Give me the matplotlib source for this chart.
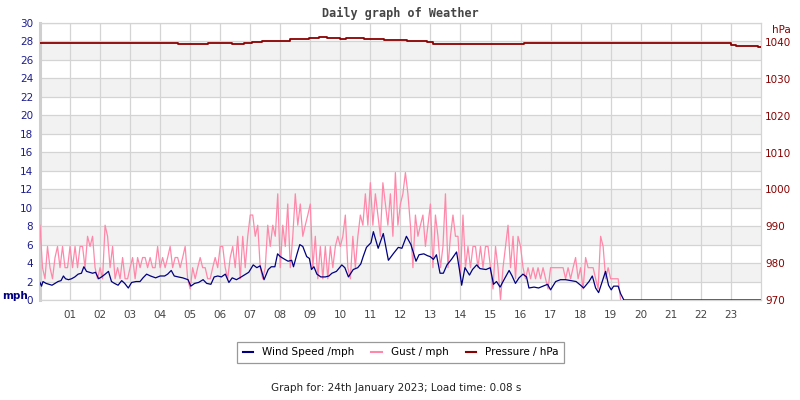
import matplotlib
matplotlib.use("Agg")
import matplotlib.pyplot as plt
import numpy as np

# wind speed (mph), read at irregular times (hours)
wind_hours = [0.00, 0.05, 0.10, 0.20, 0.30, 0.40, 0.50, 0.60, 0.70, 0.78, 0.85, 0.95,
              1.05, 1.16, 1.27, 1.38, 1.46, 1.55, 1.65, 1.75, 1.85, 1.95,
              2.05, 2.17, 2.28, 2.38, 2.48, 2.60, 2.72, 2.82, 2.94,
              3.05, 3.20, 3.33, 3.43, 3.55, 3.68, 3.85,
              4.00, 4.15, 4.25, 4.37, 4.47, 4.60, 4.75, 4.93,
              5.02, 5.15, 5.28, 5.43, 5.55, 5.69, 5.80, 5.92,
              6.04, 6.17, 6.29, 6.40, 6.54, 6.65, 6.80, 6.95,
              7.10, 7.22, 7.33, 7.46, 7.60, 7.70, 7.82, 7.91,
              8.00, 8.15, 8.26, 8.38, 8.44, 8.55, 8.65, 8.75, 8.88, 8.97,
              9.04, 9.12, 9.22, 9.35, 9.50, 9.62, 9.72, 9.87,
              10.05, 10.15, 10.27, 10.43, 10.58, 10.68, 10.76, 10.87,
              11.02, 11.10, 11.26, 11.43, 11.60, 11.76, 11.93,
              12.05, 12.20, 12.35, 12.52, 12.62, 12.78, 12.90, 12.99,
              13.10, 13.20, 13.32, 13.43, 13.55, 13.70, 13.87, 13.99,
              14.04, 14.15, 14.30, 14.40, 14.54, 14.65, 14.85, 14.99,
              15.10, 15.20, 15.32, 15.45, 15.62, 15.72, 15.83, 15.95,
              16.08, 16.20, 16.28, 16.45, 16.60, 16.75, 16.90,
              17.00, 17.17, 17.33, 17.50, 17.67, 17.85,
              18.00, 18.10, 18.28, 18.39, 18.50, 18.60, 18.72, 18.83, 18.93,
              19.02, 19.10, 19.25, 19.33, 19.44, 24.00]
wind_mph = [1.9, 1.5, 2.0, 1.8, 1.7, 1.6, 1.8, 2.0, 2.1, 2.6, 2.3, 2.2,
            2.3, 2.5, 2.8, 2.9, 3.6, 3.1, 3.0, 2.9, 3.0, 2.3,
            2.5, 2.8, 3.1, 2.0, 1.8, 1.6, 2.1, 1.8, 1.3,
            1.9, 2.0, 2.0, 2.4, 2.8, 2.6, 2.4,
            2.6, 2.6, 2.8, 3.2, 2.6, 2.5, 2.4, 2.2,
            1.5, 1.8, 1.9, 2.2, 1.8, 1.7, 2.5, 2.6,
            2.5, 2.8, 1.9, 2.4, 2.2, 2.4, 2.7, 3.0,
            3.8, 3.5, 3.7, 2.2, 3.3, 3.6, 3.6, 5.0,
            4.7, 4.4, 4.2, 4.3, 3.6, 4.9, 6.0, 5.8, 4.7, 4.5,
            3.3, 3.6, 2.8, 2.5, 2.5, 2.6, 2.9, 3.1,
            3.8, 3.5, 2.5, 3.3, 3.5, 3.9, 4.7, 5.7,
            6.2, 7.4, 5.6, 7.2, 4.3, 5.0, 5.7,
            5.6, 6.9, 6.0, 4.2, 4.9, 5.0, 4.8, 4.7,
            4.4, 4.9, 2.9, 2.9, 3.8, 4.4, 5.2, 2.8,
            1.6, 3.5, 2.7, 3.3, 3.8, 3.4, 3.3, 3.5,
            1.7, 2.0, 1.4, 2.2, 3.2, 2.6, 1.8, 2.4,
            2.8, 2.5, 1.3, 1.4, 1.3, 1.5, 1.7,
            1.1, 2.0, 2.2, 2.2, 2.1, 2.0,
            1.6, 1.3, 2.0, 2.6, 1.3, 0.8, 2.0, 3.1, 1.6,
            1.1, 1.5, 1.5, 0.7, 0.0, 0.0]

# gust (mph), one reading every 5 minutes from 00:00, one list per hour
g00 = [8.1, 3.5, 2.3, 5.8, 3.5, 2.3, 4.6, 5.8, 3.5, 5.8, 3.5, 3.5]
g01 = [5.8, 3.5, 5.8, 3.5, 5.8, 5.8, 3.5, 6.9, 5.8, 6.9, 3.5, 2.3]
g02 = [3.5, 2.3, 8.1, 6.9, 3.5, 5.8, 2.3, 3.5, 2.3, 4.6, 2.3, 2.3]
g03 = [3.5, 4.6, 2.3, 4.6, 3.5, 4.6, 4.6, 3.5, 4.6, 3.5, 3.5, 5.8]
g04 = [3.5, 4.6, 3.5, 4.6, 5.8, 3.5, 4.6, 4.6, 3.5, 4.6, 5.8, 2.3]
g05 = [1.2, 3.5, 2.3, 3.5, 4.6, 3.5, 3.5, 2.3, 2.3, 3.5, 4.6, 3.5]
g06 = [5.8, 5.8, 3.5, 2.3, 4.6, 5.8, 3.5, 6.9, 2.3, 6.9, 3.5, 6.9]
g07 = [9.2, 9.2, 6.9, 8.1, 3.5, 2.3, 3.5, 8.1, 5.8, 8.1, 6.9, 11.5]
g08 = [3.5, 8.1, 5.8, 10.4, 3.5, 6.9, 11.5, 8.1, 10.4, 6.9, 8.1, 9.2]
g09 = [10.4, 3.5, 6.9, 2.3, 5.8, 2.3, 5.8, 2.3, 5.8, 3.5, 5.8, 6.9]
g10 = [5.8, 6.9, 9.2, 3.5, 2.3, 6.9, 3.5, 6.9, 9.2, 8.1, 11.5, 8.1]
g11 = [12.7, 8.1, 11.5, 9.2, 6.9, 12.7, 10.4, 8.1, 11.5, 6.9, 13.8, 8.1]
g12 = [10.4, 11.5, 13.8, 11.5, 8.1, 3.5, 9.2, 6.9, 8.1, 9.2, 5.8, 8.1]
g13 = [10.4, 3.5, 9.2, 6.9, 3.5, 5.8, 11.5, 3.5, 6.9, 9.2, 6.9, 6.9]
g14 = [2.3, 9.2, 3.5, 5.8, 3.5, 5.8, 5.8, 3.5, 5.8, 3.5, 5.8, 5.8]
g15 = [3.5, 1.2, 5.8, 3.5, 0.0, 3.5, 5.8, 8.1, 3.5, 6.9, 2.3, 6.9]
g16 = [5.8, 3.5, 2.3, 3.5, 2.3, 3.5, 2.3, 3.5, 2.3, 3.5, 2.3, 1.2]
g17 = [3.5, 3.5, 3.5, 3.5, 3.5, 3.5, 2.3, 3.5, 2.3, 3.5, 4.6, 2.3]
g18 = [3.5, 1.2, 4.6, 3.5, 3.5, 3.5, 2.3, 1.2, 6.9, 5.8, 2.3, 3.5]
g19 = [2.3, 2.3, 2.3, 2.3, 0.0]
gust_mph = (g00 + g01 + g02 + g03 + g04 + g05 + g06 + g07 + g08 + g09
            + g10 + g11 + g12 + g13 + g14 + g15 + g16 + g17 + g18 + g19)
gust_hours = np.arange(len(gust_mph)) * 5 / 60

# pressure (hPa), step changes
pres_hours = [0.0, 2.5, 4.6, 5.6, 6.4, 6.8, 7.05, 7.4, 8.33, 8.95, 9.28, 9.56, 10.0,
              10.2, 10.78, 11.45, 12.22, 12.9, 13.1, 16.1, 19.1, 23.0, 23.17, 23.9, 24.0]
pres_hpa = [1039.8, 1039.8, 1039.5, 1039.7, 1039.5, 1039.7, 1040.0, 1040.4, 1040.8,
            1041.1, 1041.4, 1041.1, 1040.8, 1041.1, 1040.8, 1040.5, 1040.3, 1040.1,
            1039.6, 1039.8, 1039.7, 1039.2, 1039.0, 1038.6, 1038.6]

hour_labels = ["%02d" % h for h in range(1, 24)]

navy = "#000080"
pink = "#ff88aa"
darkred = "#8b0000"
gridc = "#d4d4d4"

fig = plt.figure(figsize=(8, 4), dpi=100)
ax = fig.add_axes([0.05, 0.25, 0.901, 0.6925])

for lo in range(2, 30, 4):
    ax.axhspan(lo, lo + 2, color="#f2f2f2", lw=0, zorder=0)
for y in range(0, 31, 2):
    ax.axhline(y, color=gridc, lw=0.9, zorder=1)
for h in range(1, 24):
    ax.axvline(h, color=gridc, lw=0.9, zorder=1)

ax.plot(gust_hours, gust_mph, color=pink, lw=0.9, zorder=3)
ax.plot(wind_hours, wind_mph, color=navy, lw=0.9, zorder=4)

ax.set_xlim(0, 24)
ax.set_ylim(0, 30)
ax.set_yticks(range(0, 31, 2))
ax.set_xticks(range(1, 24))
ax.set_xticklabels(hour_labels)
ax.tick_params(axis="y", length=0, pad=5, labelsize=7.5, labelcolor="#1c1c8f")
ax.tick_params(axis="x", length=0, pad=7, labelsize=7.5, labelcolor="#444444")
for s in ["top", "right", "bottom"]:
    ax.spines[s].set_color(gridc)
    ax.spines[s].set_linewidth(0.9)
ax.spines["left"].set_color("#cfcfcf")
ax.spines["left"].set_linewidth(2.2)

ax2 = ax.twinx()
ax2.plot(pres_hours, pres_hpa, color=darkred, lw=1.3, drawstyle="steps-post", zorder=5)
ax2.set_ylim(970, 1045.2)
ax2.set_yticks(range(970, 1041, 10))
ax2.tick_params(axis="y", length=0, pad=3, labelsize=7.5, labelcolor=darkred)
for s in ax2.spines.values():
    s.set_visible(False)

fig.text(0.5, 0.967, "Daily graph of Weather", ha="center", va="center",
         family="DejaVu Sans Mono", fontweight="bold", fontsize=8.5, color="#444444")
fig.text(0.003, 0.26, "mph", ha="left", va="center", fontweight="bold",
         fontsize=7.5, color=navy)
fig.text(0.965, 0.925, "hPa", ha="left", va="center", fontsize=7.5, color=darkred)

handles = [plt.Line2D([], [], color=navy, lw=1.5),
           plt.Line2D([], [], color=pink, lw=1.5),
           plt.Line2D([], [], color=darkred, lw=1.5)]
leg = fig.legend(handles, ["Wind Speed /mph", "Gust / mph", "Pressure / hPa"],
                 loc="center", bbox_to_anchor=(0.501, 0.119), ncol=3,
                 fontsize=7.5, handlelength=1.0, handletextpad=0.9, columnspacing=1.6,
                 frameon=True, fancybox=False, borderpad=0.5)
leg.get_frame().set_edgecolor("#808080")
leg.get_frame().set_linewidth(0.9)

fig.text(0.495, 0.03, "Graph for: 24th January 2023; Load time: 0.08 s",
         ha="center", va="center", fontsize=7.5, color="#222222")

fig.savefig("out.png", dpi=100)
